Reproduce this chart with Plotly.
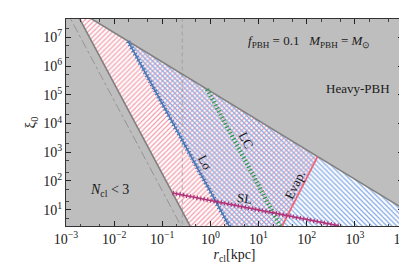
import plotly.graph_objects as go

# ---------------- data ----------------
# N_cl < 3 boundary (grey solid) and its dash-dot companion
ncl_r = [1.475e-3, 0.52]
ncl_xi = [1e8, 1]
ncl_ref_r = [9.57e-4, 0.337]
ncl_ref_xi = [1e8, 1]
# Heavy-PBH boundary
heavy_r = [1.5e-3, 1e4]
heavy_xi = [1e8, 11]
# constraint lines
lsig_r = [0.0195, 3.4]
lsig_xi = [7.24e6, 1]
lc_r = [0.851, 38.8]
lc_xi = [1.55e5, 1]
evap_r = [168, 22.8]
evap_xi = [708, 1]
sl_r = [0.163, 470]
sl_xi = [38.3, 2.75]
# vertical dashed line
rv = 0.26
xi_floor = 1
r_max = 1e4

x_exps = [-3, -2, -1, 0, 1, 2, 3, 4]
y_exps = [1, 2, 3, 4, 5, 6, 7]
x_tickvals = [10.0 ** e for e in x_exps]
x_ticktext = ["10<sup>%s</sup>" % str(e).replace("-", "−") for e in x_exps]
y_tickvals = [10.0 ** e for e in y_exps]
y_ticktext = ["10<sup>%d</sup>" % e for e in y_exps]

SERIF = "Liberation Serif"
GRAY_LINE = "#808080"
TXT = "#1a1a1a"

fig = go.Figure()

# white allowed region (union)
fig.add_trace(go.Scatter(
    x=[ncl_r[0], heavy_r[0], heavy_r[1], r_max, ncl_r[1], ncl_r[0]],
    y=[ncl_xi[0], heavy_xi[0], heavy_xi[1], xi_floor, ncl_xi[1], ncl_xi[0]],
    fill="toself", fillcolor="white", mode="none", showlegend=False, hoverinfo="skip"))

# pink hatched region
fig.add_trace(go.Scatter(
    x=[ncl_r[0], heavy_r[0], evap_r[0], evap_r[1], ncl_r[1], ncl_r[0]],
    y=[ncl_xi[0], heavy_xi[0], evap_xi[0], evap_xi[1], ncl_xi[1], ncl_xi[0]],
    fill="toself", fillcolor="rgba(0,0,0,0)", mode="none",
    fillpattern=dict(shape="/", fgcolor="#f39aa8", size=3.5, solidity=0.35),
    showlegend=False, hoverinfo="skip"))

# blue hatched region
fig.add_trace(go.Scatter(
    x=[lsig_r[0], heavy_r[1], r_max, lsig_r[1], lsig_r[0]],
    y=[lsig_xi[0], heavy_xi[1], xi_floor, lsig_xi[1], lsig_xi[0]],
    fill="toself", fillcolor="rgba(0,0,0,0)", mode="none",
    fillpattern=dict(shape="\\", fgcolor="#84aae6", size=3.5, solidity=0.35),
    showlegend=False, hoverinfo="skip"))

# boundaries
fig.add_trace(go.Scatter(x=ncl_ref_r, y=ncl_ref_xi, mode="lines",
                         line=dict(color="#8a8a8a", width=0.8, dash="dashdot"),
                         showlegend=False, hoverinfo="skip"))
fig.add_trace(go.Scatter(x=[rv, rv], y=[xi_floor, ncl_xi[0]], mode="lines",
                         line=dict(color="#9a9a9a", width=0.8, dash="4px,3px"),
                         showlegend=False, hoverinfo="skip"))
fig.add_trace(go.Scatter(x=ncl_r, y=ncl_xi, mode="lines",
                         line=dict(color=GRAY_LINE, width=1.6),
                         showlegend=False, hoverinfo="skip"))
fig.add_trace(go.Scatter(x=heavy_r, y=heavy_xi, mode="lines",
                         line=dict(color=GRAY_LINE, width=1.6),
                         showlegend=False, hoverinfo="skip"))

# ticked constraint lines: thin solid + thick dashed to mimic hatch ticks
def ticked(xs, ys, color, solid=True):
    if solid:
        fig.add_trace(go.Scatter(x=xs, y=ys, mode="lines",
                                 line=dict(color=color, width=1.6),
                                 showlegend=False, hoverinfo="skip"))
    fig.add_trace(go.Scatter(x=xs, y=ys, mode="lines",
                             line=dict(color=color, width=4.5, dash="1.2px,2.3px"),
                             showlegend=False, hoverinfo="skip"))

ticked(lsig_r, lsig_xi, "#4a78b5")
ticked(lc_r, lc_xi, "#2e9a45", solid=False)
fig.add_trace(go.Scatter(x=evap_r, y=evap_xi, mode="lines",
                         line=dict(color="#ee6677", width=1.8),
                         showlegend=False, hoverinfo="skip"))
ticked(sl_r, sl_xi, "#b0337a")

# ---------------- annotations ----------------
def note(text, x, y, angle=0, size=13):
    fig.add_annotation(text=text, x=x, y=y, xref="paper", yref="paper",
                       xanchor="center", yanchor="middle",
                       showarrow=False, textangle=angle,
                       font=dict(family=SERIF, size=size, color=TXT))

note("<i>f</i><sub>PBH</sub> = 0.1   <i>M</i><sub>PBH</sub> = <i>M</i><sub>⊙</sub>", 0.721, 0.893, size=13)
note("Heavy-PBH", 0.866, 0.666, size=13)
note("<i>N</i><sub>cl</sub> &lt; 3", 0.128, 0.170, size=14)
note("Lσ", 0.412, 0.305, angle=61, size=13)
note("LC", 0.534, 0.411, angle=62, size=13)
note("SL", 0.531, 0.132, angle=8, size=13)
note("Evap.", 0.680, 0.199, angle=-64, size=13)

axis_common = dict(
    type="log", showgrid=False, zeroline=False, automargin=False,
    ticks="inside", ticklen=5, tickwidth=1, tickcolor="#222",
    showline=True, linecolor="#333", linewidth=1, mirror="allticks",
    tickfont=dict(family=SERIF, size=14, color=TXT),
    minor=dict(ticks="inside", ticklen=2.5, tickcolor="#444", showgrid=False),
)

fig.update_layout(
    template="none",
    width=407, height=279,
    margin=dict(l=58, r=12, t=11, b=61),
    paper_bgcolor="white", plot_bgcolor="#bebebe",
    font=dict(family=SERIF, color=TXT),
    showlegend=False,
    xaxis=dict(range=[-3, 4], tickvals=x_tickvals, ticktext=x_ticktext,
               title=dict(text="<i>r</i><sub>cl</sub>[kpc]", standoff=3,
                          font=dict(family=SERIF, size=14, color=TXT)),
               **axis_common),
    yaxis=dict(range=[0.434, 7.635], tickvals=y_tickvals, ticktext=y_ticktext,
               title=dict(text="ξ<sub>0</sub>", standoff=4,
                          font=dict(family=SERIF, size=15, color=TXT)),
               **axis_common),
)

fig.write_html("out.html")
